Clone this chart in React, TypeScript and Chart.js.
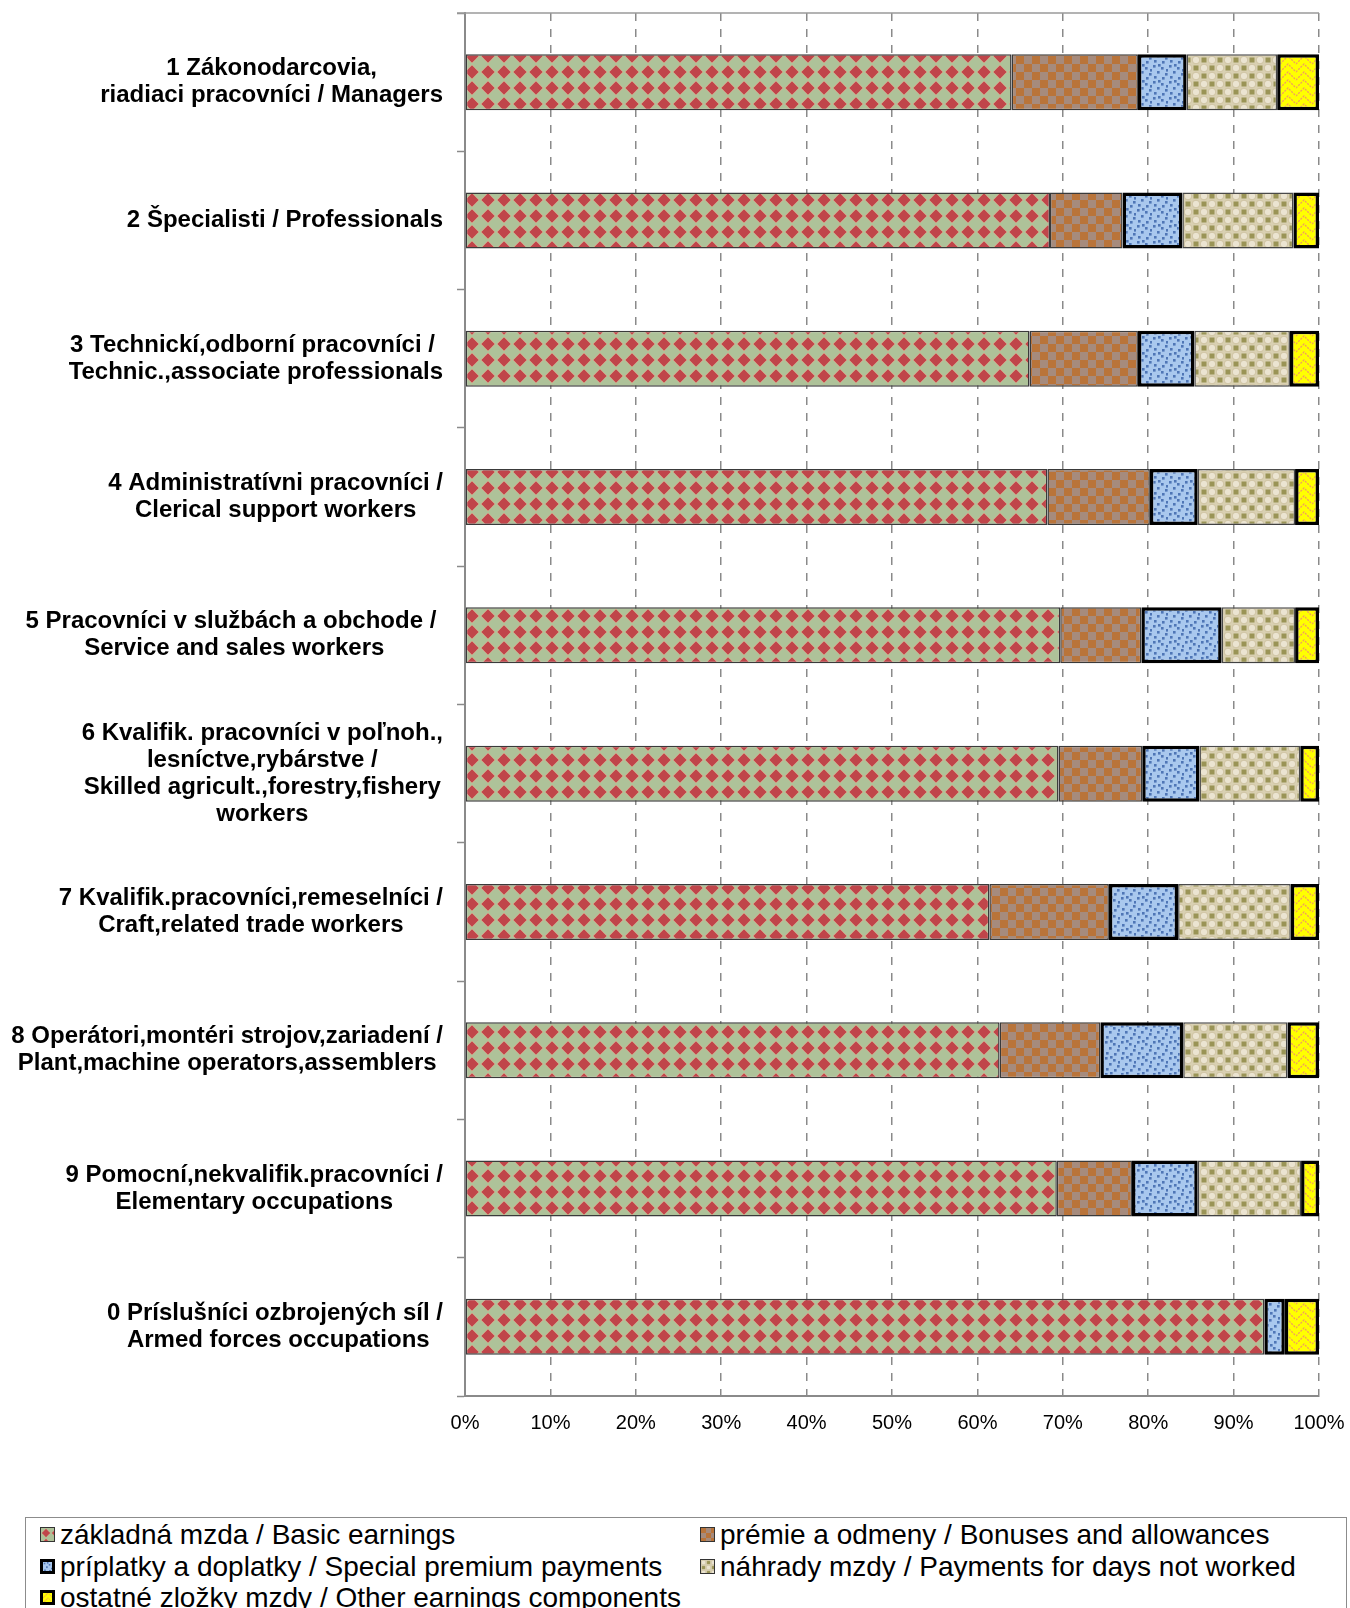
import React, { useEffect, useMemo, useRef } from 'react';
import { Chart, registerables } from 'chart.js';

Chart.register(...registerables);

// ---------- data ----------
const categories: string[][] = [
  ['1 Zákonodarcovia,', 'riadiaci pracovníci / Managers'],
  ['2 Špecialisti / Professionals'],
  ['3 Technickí,odborní pracovníci / ', 'Technic.,associate professionals'],
  ['4 Administratívni pracovníci /', 'Clerical support workers'],
  ['5 Pracovníci v službách a obchode / ', 'Service and sales workers'],
  ['6 Kvalifik. pracovníci v poľnoh.,', 'lesníctve,rybárstve /', 'Skilled agricult.,forestry,fishery', 'workers'],
  ['7 Kvalifik.pracovníci,remeselníci /', 'Craft,related trade workers'],
  ['8 Operátori,montéri strojov,zariadení /', 'Plant,machine operators,assemblers'],
  ['9 Pomocní,nekvalifik.pracovníci /', 'Elementary occupations'],
  ['0 Príslušníci ozbrojených síl /', ' Armed forces occupations'],
];

const basicEarnings = [64.0, 68.5, 66.1, 68.2, 69.7, 69.5, 61.4, 62.6, 69.3, 93.6];
const bonuses = [14.8, 8.5, 12.7, 12.0, 9.5, 9.8, 14.0, 11.8, 8.8, 0];
const specialPremium = [5.7, 7.0, 6.6, 5.6, 9.4, 6.7, 8.1, 9.7, 7.7, 2.4];
const daysNotWorked = [10.6, 13.0, 11.2, 11.4, 8.6, 11.8, 13.2, 12.2, 12.1, 0];
const otherComponents = [4.9, 3.0, 3.4, 2.8, 2.8, 2.2, 3.3, 3.7, 2.1, 4.0];

const seriesNames = [
  'základná mzda / Basic earnings',
  'prémie a odmeny / Bonuses and allowances',
  'príplatky a doplatky / Special premium payments',
  'náhrady mzdy / Payments for days not worked',
  'ostatné zložky mzdy / Other earnings components',
];

const xMin = 0;
const xMax = 100;
const xStep = 10;

// ---------- patterns ----------
type Kind = 'basic' | 'bonus' | 'premium' | 'days' | 'other';

function makeTile(kind: Kind): HTMLCanvasElement {
  const c = document.createElement('canvas');
  c.width = 16;
  c.height = 16;
  const g = c.getContext('2d')!;
  if (kind === 'basic') {
    g.fillStyle = '#aec299';
    g.fillRect(0, 0, 16, 16);
    g.fillStyle = '#d6bf9a';
    g.beginPath();
    g.moveTo(8, 0.5); g.lineTo(15.5, 8); g.lineTo(8, 15.5); g.lineTo(0.5, 8); g.closePath();
    g.fill();
    g.fillStyle = '#c0454a';
    g.beginPath();
    g.moveTo(8, 1.3); g.lineTo(14.7, 8); g.lineTo(8, 14.7); g.lineTo(1.3, 8); g.closePath();
    g.fill();
  } else if (kind === 'bonus') {
    g.fillStyle = '#a68b7d';
    g.fillRect(0, 0, 16, 16);
    g.fillStyle = '#b9743a';
    g.fillRect(0, 0, 8, 8);
    g.fillRect(8, 8, 8, 8);
  } else if (kind === 'premium') {
    g.fillStyle = '#a9c8ee';
    g.fillRect(0, 0, 16, 16);
    g.fillStyle = '#4f76b6';
    const pts = [[1, 1], [9, 3], [5, 7], [13, 9], [2, 12], [10, 13], [6, 0], [14, 5]];
    pts.forEach(([x, y]) => g.fillRect(x, y, 2.6, 2.6));
  } else if (kind === 'days') {
    g.fillStyle = '#d9d0b2';
    g.fillRect(0, 0, 16, 16);
    g.fillStyle = '#ebe4d1';
    g.strokeStyle = '#c9bd99';
    g.lineWidth = 0.8;
    [[4, 4], [12, 12]].forEach(([x, y]) => {
      g.beginPath();
      g.arc(x, y, 3.8, 0, Math.PI * 2);
      g.fill();
      g.stroke();
    });
    g.fillStyle = '#9a9456';
    g.fillRect(9.5, 1.5, 5, 5);
    g.fillRect(1.5, 9.5, 5, 5);
  } else {
    g.fillStyle = '#ffff00';
    g.fillRect(0, 0, 16, 16);
    g.strokeStyle = '#f2a05c';
    g.lineWidth = 1.3;
    g.setLineDash([2, 1.2]);
    for (let k = -8; k <= 24; k += 8) {
      g.beginPath();
      g.moveTo(0, k + 8);
      g.lineTo(8, k);
      g.lineTo(16, k + 8);
      g.stroke();
    }
  }
  return c;
}

const kinds: Kind[] = ['basic', 'bonus', 'premium', 'days', 'other'];
const FONT = '"Liberation Sans", Arial, Helvetica, sans-serif';

// ---------- plugins ----------
const categoryLabelPlugin = {
  id: 'categoryLabels',
  afterDraw(chart: any) {
    const ctx = chart.ctx as CanvasRenderingContext2D;
    const yScale = chart.scales.y;
    const right = chart.chartArea.left - 22;
    const lh = 27;
    ctx.save();
    ctx.font = `bold 24px ${FONT}`;
    ctx.fillStyle = '#000';
    ctx.textAlign = 'center';
    ctx.textBaseline = 'middle';
    categories.forEach((lines, i) => {
      const cy = yScale.getPixelForValue(i);
      const w = Math.max(...lines.map((l) => ctx.measureText(l).width));
      const cx = right - w / 2;
      lines.forEach((l, j) => {
        ctx.fillText(l, cx, cy + (j - (lines.length - 1) / 2) * lh);
      });
    });
    ctx.restore();
  },
};

const shadowPlugin = {
  id: 'segShadow',
  beforeDatasetDraw(chart: any, args: any) {
    if (args.index === 3) {
      const ctx = chart.ctx as CanvasRenderingContext2D;
      ctx.save();
      ctx.shadowColor = 'rgba(0,0,0,0.10)';
      ctx.shadowBlur = 9;
      ctx.shadowOffsetY = 13;
    }
  },
  afterDatasetDraw(chart: any, args: any) {
    if (args.index === 3) chart.ctx.restore();
  },
};

const topLinePlugin = {
  id: 'topLine',
  afterDraw(chart: any) {
    const { ctx, chartArea } = chart;
    ctx.save();
    ctx.strokeStyle = '#9a9a9a';
    ctx.lineWidth = 1.5;
    ctx.beginPath();
    ctx.moveTo(chartArea.left - 8, chartArea.top);
    ctx.lineTo(chartArea.right, chartArea.top);
    ctx.stroke();
    ctx.restore();
  },
};

function LegendItem({ left, top, url, thick, text }: any) {
  return (
    <div style={{ position: 'absolute', left, top, height: 31, display: 'flex', alignItems: 'center' }}>
      <span
        style={{
          display: 'inline-block',
          width: 15,
          height: 15,
          boxSizing: 'border-box',
          border: thick ? '3px solid #000' : '1.5px solid #333',
          backgroundImage: `url(${url})`,
          backgroundSize: '10px 10px',
          marginRight: 5,
        }}
      />
      <span style={{ fontSize: 28, lineHeight: '31px', color: '#000', whiteSpace: 'nowrap' }}>{text}</span>
    </div>
  );
}

export default function App() {
  const canvasRef = useRef<HTMLCanvasElement | null>(null);

  const tileUrls = useMemo(() => kinds.map((k) => makeTile(k).toDataURL()), []);

  useEffect(() => {
    const canvas = canvasRef.current!;
    const ctx = canvas.getContext('2d')!;
    const pats = kinds.map((k) => ctx.createPattern(makeTile(k), 'repeat')!);
    const seriesData = [basicEarnings, bonuses, specialPremium, daysNotWorked, otherComponents];
    const borderColors = ['#3a3a3a', '#3a3a3a', '#000000', '#4a4a4a', '#000000'];
    const borderWidths = [1.5, 1.5, 3.5, 1.5, 3.5];

    const chart = new Chart(canvas, {
      type: 'bar',
      data: {
        labels: categories.map((c) => c.join(' ')),
        datasets: seriesData.map((d, i) => ({
          label: seriesNames[i],
          data: d,
          backgroundColor: pats[i] as any,
          borderColor: borderColors[i],
          borderWidth: borderWidths[i],
          borderSkipped: false,
          categoryPercentage: 1,
          barPercentage: 0.405,
        })),
      },
      options: {
        indexAxis: 'y',
        responsive: false,
        maintainAspectRatio: false,
        animation: false,
        devicePixelRatio: 1,
        layout: { padding: { top: 13, right: 31, left: 0, bottom: 0 } },
        plugins: {
          legend: { display: false },
          tooltip: { enabled: false },
        },
        scales: {
          x: {
            stacked: true,
            min: xMin,
            max: xMax,
            ticks: {
              stepSize: xStep,
              callback: (v: any) => `${v}%`,
              color: '#000',
              font: { family: FONT, size: 20 },
              padding: 0,
              maxRotation: 0,
            },
            grid: {
              color: '#8a8a8a',
              lineWidth: 1.5,
              drawTicks: true,
              tickLength: 15,
              tickColor: 'rgba(0,0,0,0)',
            },
            border: { display: true, color: '#8a8a8a', width: 2, dash: [8, 8] },
            afterFit: (s: any) => {
              s.height = 54;
            },
          },
          y: {
            stacked: true,
            ticks: { display: false },
            grid: {
              drawOnChartArea: false,
              drawTicks: true,
              tickLength: 8,
              tickColor: '#8a8a8a',
              tickWidth: 1.5,
              offset: true,
            },
            border: { display: true, color: '#8a8a8a', width: 2 },
            afterFit: (s: any) => {
              s.width = 465;
            },
          },
        },
      },
      plugins: [shadowPlugin, topLinePlugin, categoryLabelPlugin],
    });
    return () => chart.destroy();
  }, []);

  const col0 = 40;
  const col1 = 700;
  const rows = [1519, 1551, 1582];

  return (
    <div
      style={{
        position: 'absolute',
        left: 0,
        top: 0,
        width: 1350,
        height: 1608,
        overflow: 'hidden',
        background: '#fff',
        fontFamily: FONT,
      }}
    >
      <canvas
        ref={canvasRef}
        width={1350}
        height={1450}
        style={{ position: 'absolute', left: 0, top: 0, width: 1350, height: 1450 }}
      />
      <div
        style={{
          position: 'absolute',
          left: 25,
          top: 1517,
          width: 1322,
          height: 120,
          border: '1.5px solid #8c8c8c',
          boxSizing: 'border-box',
        }}
      />
      <LegendItem left={col0} top={rows[0]} url={tileUrls[0]} thick={false} text={seriesNames[0]} />
      <LegendItem left={col1} top={rows[0]} url={tileUrls[1]} thick={false} text={seriesNames[1]} />
      <LegendItem left={col0} top={rows[1]} url={tileUrls[2]} thick={true} text={seriesNames[2]} />
      <LegendItem left={col1} top={rows[1]} url={tileUrls[3]} thick={false} text={seriesNames[3]} />
      <LegendItem left={col0} top={rows[2]} url={tileUrls[4]} thick={true} text={seriesNames[4]} />
    </div>
  );
}
